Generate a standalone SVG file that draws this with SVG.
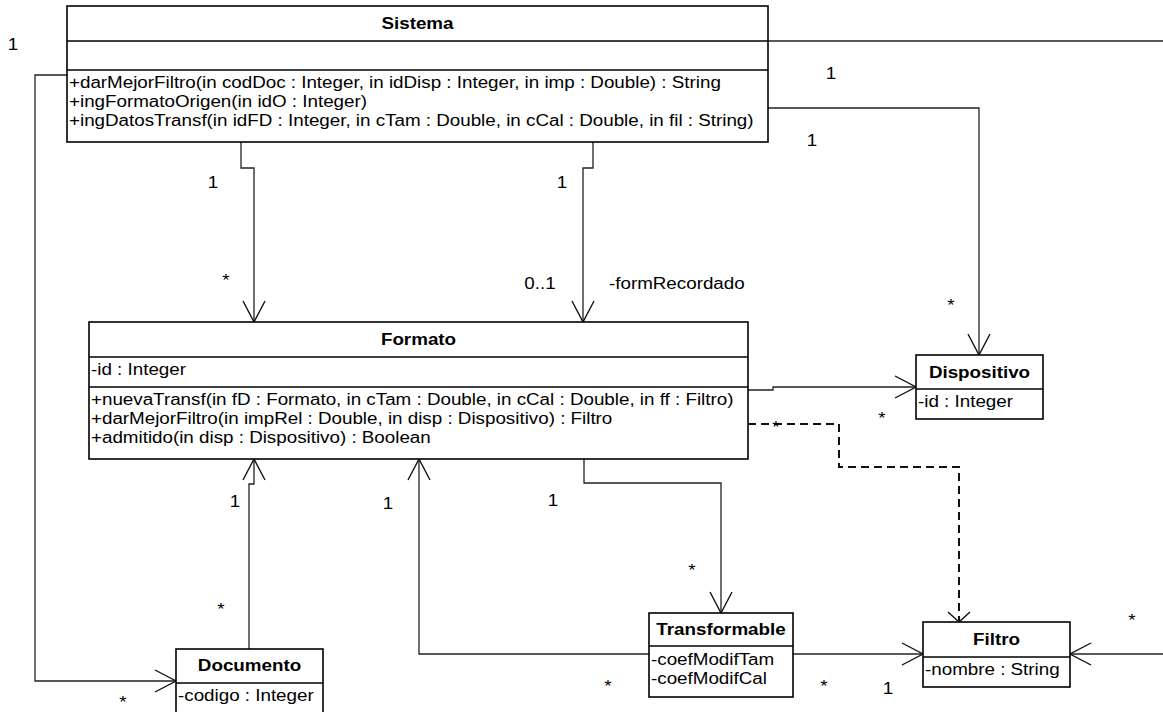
<svg xmlns="http://www.w3.org/2000/svg" width="1163" height="712" viewBox="0 0 1163 712">
<defs>
<style>
.box{fill:#fff;stroke:#000;stroke-width:1.6}
.div{stroke:#000;stroke-width:1.6}
.t{font-family:"Liberation Sans",Arial,sans-serif;font-size:16px;fill:#000}
.b{font-weight:bold;text-anchor:middle}
.m{text-anchor:middle}
.c{fill:none;stroke:#222;stroke-width:1.3}
.d{fill:none;stroke:#111;stroke-width:2;stroke-dasharray:8 5}
</style>
<marker id="open" markerUnits="userSpaceOnUse" orient="auto" refX="0" refY="0" markerWidth="1" markerHeight="1" overflow="visible">
<path d="M-21,-11 L0,0 L-21,11" fill="none" stroke="#111" stroke-width="1.4"/>
</marker>
<marker id="openSmall" markerUnits="userSpaceOnUse" orient="auto" refX="0" refY="0" markerWidth="1" markerHeight="1" overflow="visible">
<path d="M-10,-11 L0,0 L-10,11" fill="none" stroke="#111" stroke-width="1.4"/>
</marker>
</defs>
<rect width="1163" height="712" fill="#fff"/>

<g id="connectors">
<path class="c" d="M67,75 H35 V681 H176" marker-end="url(#open)"/>
<path class="c" d="M768,41 H1163"/>
<path class="c" d="M1163,654 H1070" marker-end="url(#open)"/>
<path class="c" d="M241,142 V168 H254 V322" marker-end="url(#open)"/>
<path class="c" d="M593,142 V168 H583 V322" marker-end="url(#open)"/>
<path class="c" d="M768,108 H979 V355" marker-end="url(#open)"/>
<path class="c" d="M748,390 H773 V387 H916" marker-end="url(#open)"/>
<path class="d" d="M748,424 H839 V467 H959 V622" marker-end="url(#openSmall)"/>
<path class="c" d="M584,459 V483 H721 V613" marker-end="url(#open)"/>
<path class="c" d="M649,654 H419 V459" marker-end="url(#open)"/>
<path class="c" d="M249,649 V484 H254 V459" marker-end="url(#open)"/>
<path class="c" d="M793,654 H923" marker-end="url(#open)"/>
<g transform="scale(1.175 1)" class="t">
<text class="m" x="11.06" y="49.8">1</text>
<text class="m" x="707.23" y="78.8">1</text>
<text class="m" x="691.06" y="145.8">1</text>
<text class="m" x="181.28" y="187.8">1</text>
<text class="m" x="478.3" y="187.8">1</text>
<text class="m" x="192.34" y="286">*</text>
<text class="m" x="459.57" y="288.8">0..1</text>
<text x="518.3" y="288.8">-formRecordado</text>
<text class="m" x="809.36" y="311">*</text>
<text class="m" x="750.64" y="424">*</text>
<text class="m" x="660.43" y="433">*</text>
<text class="m" x="470.64" y="505.8">1</text>
<text class="m" x="330.21" y="508.8">1</text>
<text class="m" x="200" y="506.8">1</text>
<text class="m" x="588.94" y="576">*</text>
<text class="m" x="188.09" y="615">*</text>
<text class="m" x="517.45" y="692">*</text>
<text class="m" x="701.28" y="692">*</text>
<text class="m" x="755.74" y="693.8">1</text>
<text class="m" x="963.4" y="626">*</text>
<text class="m" x="104.68" y="708.5">*</text>
</g>
</g>

<g id="Sistema">
<rect class="box" x="67" y="6" width="701" height="136"/>
<line class="div" x1="67" y1="41" x2="768" y2="41"/>
<line class="div" x1="67" y1="70" x2="768" y2="70"/>
<g transform="scale(1.175 1)" class="t">
<text class="b" x="355.32" y="29.5">Sistema</text>
<text x="58.72" y="88.5">+darMejorFiltro(in codDoc : Integer, in idDisp : Integer, in imp : Double) : String</text>
<text x="58.72" y="107.5">+ingFormatoOrigen(in idO : Integer)</text>
<text x="58.72" y="126.5">+ingDatosTransf(in idFD : Integer, in cTam : Double, in cCal : Double, in fil : String)</text>
</g>
</g>

<g id="Formato">
<rect class="box" x="89" y="322" width="659" height="137"/>
<line class="div" x1="89" y1="357" x2="748" y2="357"/>
<line class="div" x1="89" y1="387" x2="748" y2="387"/>
<g transform="scale(1.175 1)" class="t">
<text class="b" x="356.17" y="345.5">Formato</text>
<text x="77.45" y="375.5">-id : Integer</text>
<text x="77.45" y="405.5">+nuevaTransf(in fD : Formato, in cTam : Double, in cCal : Double, in ff : Filtro)</text>
<text x="77.45" y="424.5">+darMejorFiltro(in impRel : Double, in disp : Dispositivo) : Filtro</text>
<text x="77.45" y="443.5">+admitido(in disp : Dispositivo) : Boolean</text>
</g>
</g>

<g id="Dispositivo">
<rect class="box" x="916" y="355" width="127" height="64"/>
<line class="div" x1="916" y1="389" x2="1043" y2="389"/>
<g transform="scale(1.175 1)" class="t">
<text class="b" x="833.62" y="378">Dispositivo</text>
<text x="781.28" y="407.5">-id : Integer</text>
</g>
</g>

<g id="Filtro">
<rect class="box" x="923" y="622" width="147" height="65"/>
<line class="div" x1="923" y1="657" x2="1070" y2="657"/>
<g transform="scale(1.175 1)" class="t">
<text class="b" x="848.09" y="645.5">Filtro</text>
<text x="787.23" y="675.5">-nombre : String</text>
</g>
</g>

<g id="Transformable">
<rect class="box" x="649" y="613" width="144" height="84"/>
<line class="div" x1="649" y1="646" x2="793" y2="646"/>
<g transform="scale(1.175 1)" class="t">
<text class="b" x="613.62" y="635.5">Transformable</text>
<text x="554.04" y="665">-coefModifTam</text>
<text x="554.04" y="684">-coefModifCal</text>
</g>
</g>

<g id="Documento">
<rect class="box" x="176" y="649" width="147" height="72"/>
<line class="div" x1="176" y1="683" x2="323" y2="683"/>
<g transform="scale(1.175 1)" class="t">
<text class="b" x="212.34" y="671.5">Documento</text>
<text x="151.49" y="701.5">-codigo : Integer</text>
</g>
</g>
</svg>
